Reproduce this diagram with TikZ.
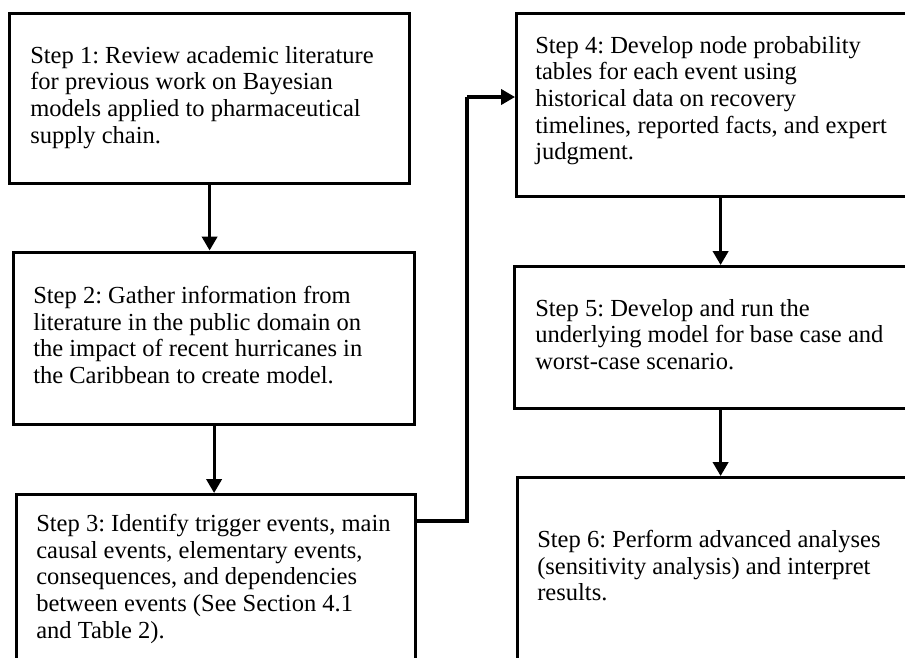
\documentclass[tikz,border=0pt]{standalone}
\usepackage{fontspec}
\setmainfont{Liberation Serif}
\usetikzlibrary{arrows.meta}
\begin{document}
\frenchspacing
\begin{tikzpicture}[x=0.75pt,y=-0.75pt,
  stepbox/.style={draw=black, line width=2.4pt, fill=none, inner sep=0pt, anchor=north west},
  steptext/.style={anchor=north west, inner sep=0pt, align=left, font={\frenchspacing\fontsize{18.4}{20}\selectfont}},
  arr/.style={draw=black, line width=2.3pt, -{Triangle[length=10.5pt,width=11.5pt]}},
  conn/.style={draw=black, line width=2.3pt}]
\useasboundingbox (0,0) rectangle (905,657);
\fill[white] (0,0) rectangle (905,657);
\clip (0,0) rectangle (905,657);
% boxes
\node[stepbox, minimum width=300pt, minimum height=127.5pt] (b1) at (8,12) {};
\node[stepbox, minimum width=300.75pt, minimum height=129.4pt] (b2) at (12,250.5) {};
\node[stepbox, minimum width=299.25pt, minimum height=160pt] (b3) at (15,493) {};
\node[stepbox, minimum width=306pt, minimum height=137.25pt] (b4) at (515,12) {};
\node[stepbox, minimum width=309pt, minimum height=106.5pt] (b5) at (513,265) {};
\node[stepbox, minimum width=304.5pt, minimum height=187.5pt] (b6) at (516,476) {};
% texts
\node[steptext] (t1) at (30,46) {Step 1: Review academic literature\\for previous work on Bayesian\\models applied to pharmaceutical\\supply chain.};
\node[steptext] (t2) at (33,286) {Step 2: Gather information from\\literature in the public domain on\\the impact of recent hurricanes in\\the Caribbean to create model.};
\node[steptext] (t3) at (36,514) {Step 3: Identify trigger events, main\\causal events, elementary events,\\consequences, and dependencies\\between events (See Section 4.1\\and Table 2).};
\node[steptext] (t4) at (535,36) {Step 4: Develop node probability\\tables for each event using\\historical data on recovery\\timelines, reported facts, and expert\\judgment.};
\node[steptext] (t5) at (535,299) {Step 5: Develop and run the\\underlying model for base case and\\worst-case scenario.};
\node[steptext] (t6) at (537,530) {Step 6: Perform advanced analyses\\(sensitivity analysis) and interpret\\results.};
% connectors
\coordinate (j1) at (467,521);
\coordinate (j2) at (467,97);
\draw[arr] (b1.south) -- (b1.south |- b2.north);
\draw[arr] (b2.south) -- (b2.south |- b3.north);
\draw[conn] (b3.east |- j1) -- (j1) -- (j2);
\draw[arr] (j2) -- (b4.west |- j2);
\draw[arr] (b4.south) -- (b4.south |- b5.north);
\draw[arr] (b5.south) -- (b5.south |- b6.north);
\end{tikzpicture}
\end{document}
